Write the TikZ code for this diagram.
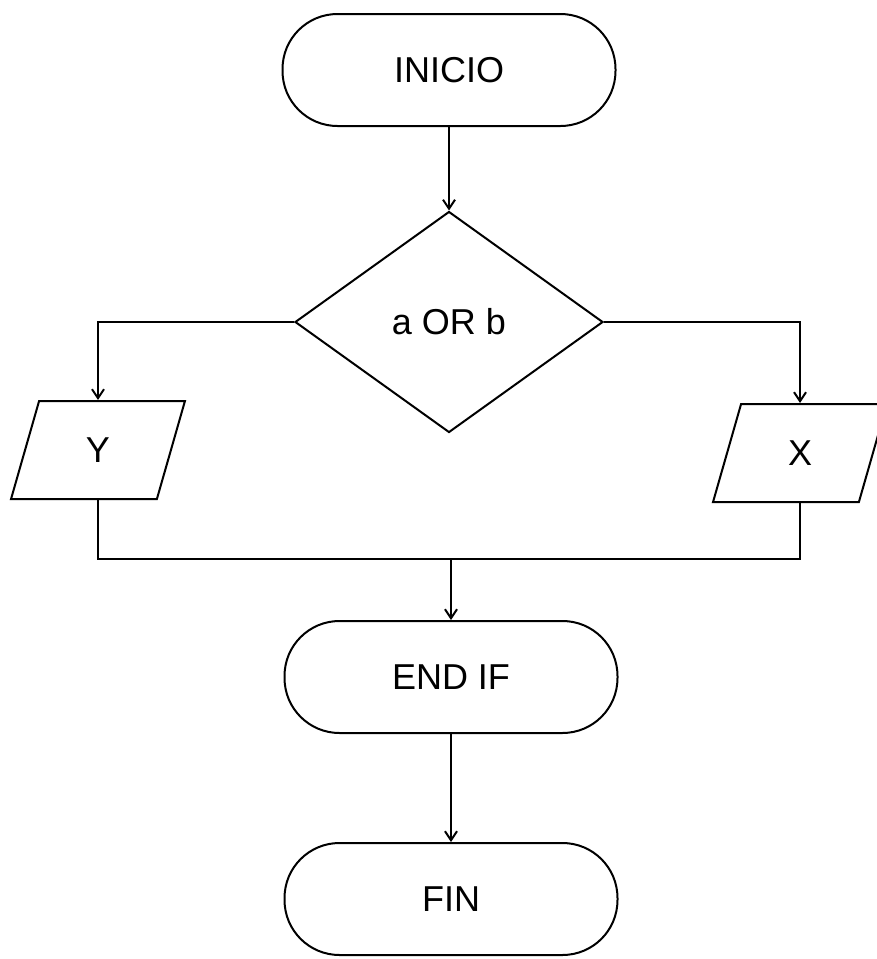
\documentclass[tikz,border=0pt]{standalone}
\usepackage{fontspec}
\setmainfont{Liberation Sans}
\usepackage{tikz}
\usetikzlibrary{arrows.meta,shapes.geometric}

\tikzset{
  terminal/.style={draw, rectangle, rounded corners=55pt, minimum width=333pt,
    minimum height=112pt, inner sep=0pt},
  decision/.style={draw, diamond, minimum width=308pt, minimum height=221pt,
    inner sep=0pt},
  datos/.style={draw, trapezium, trapezium left angle=77, trapezium right angle=103,
    trapezium stretches=true, minimum width=174pt, minimum height=98pt, inner sep=0pt},
  flecha/.style={-{Straight Barb[length=9pt,width=12pt]}}
}

\begin{document}
\begin{tikzpicture}[x=1pt,y=-1pt,line width=2pt,
  every node/.style={font=\fontsize{36}{40}\selectfont}]
\useasboundingbox (0,0) rectangle (877,959);
\node[terminal] (inicio) at (449,70) {INICIO};
\node[decision] (cond) at (449,322) {a OR b};
\node[datos] (y) at (98,450) {Y};
\node[datos] (x) at (800,453) {X};
\coordinate (union) at (451,559);
\node[terminal] (endif) at (451,677) {END IF};
\node[terminal] (fin) at (451,899) {FIN};

\draw[flecha] (inicio) -- (cond);
\draw[flecha] (cond.west) -| (y.north);
\draw[flecha] (cond.east) -| (x.north);
\draw (y.south) |- (union) -| (x.south);
\draw[flecha] (union) -- (endif);
\draw[flecha] (endif) -- (fin);
\end{tikzpicture}
\end{document}
